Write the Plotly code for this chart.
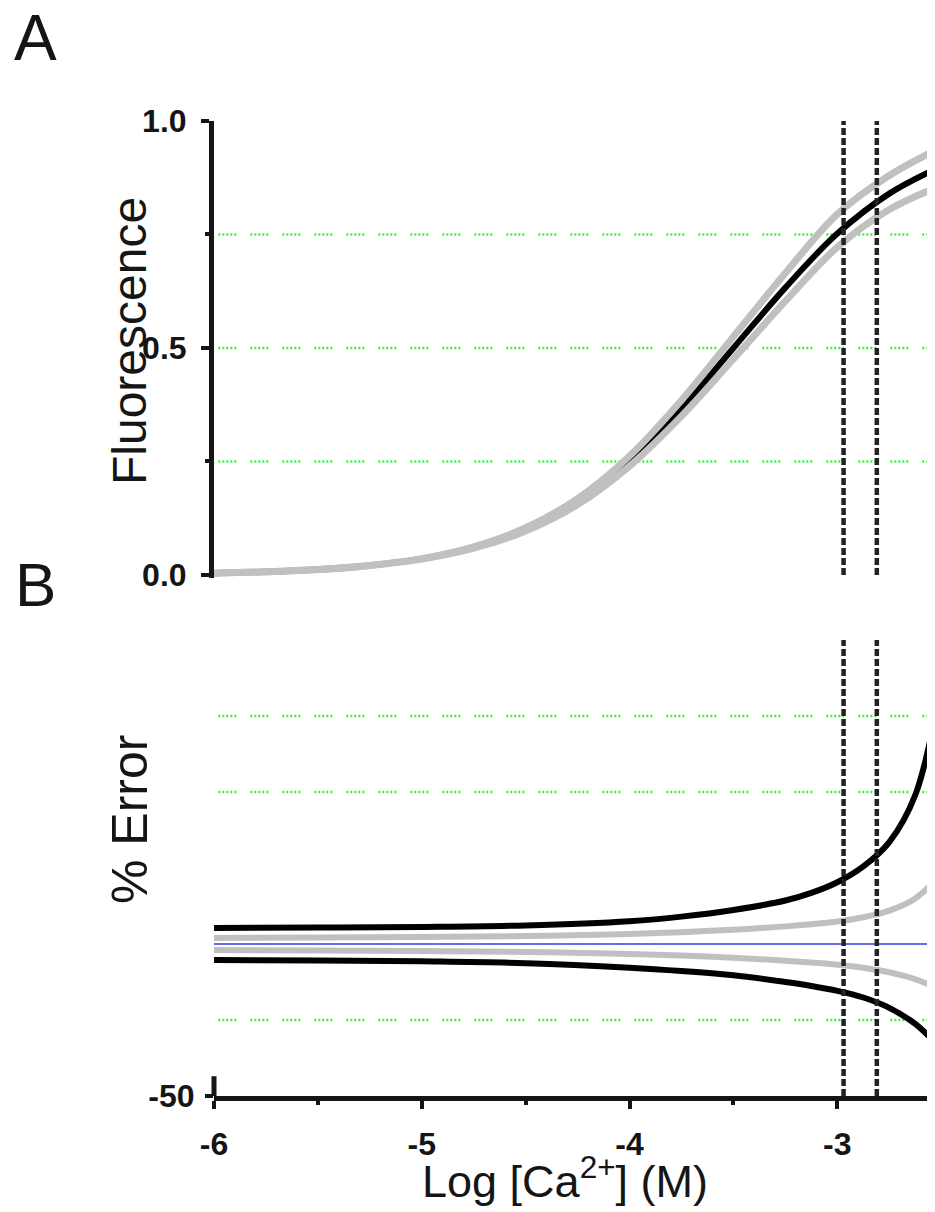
import plotly.graph_objects as go

# ---------------- data ----------------
x_log = [-6, -5.75, -5.5, -5.25, -5, -4.75, -4.5, -4.25, -4, -3.75, -3.5, -3.25, -3, -2.75, -2.5]
fluor_fit = [0.004, 0.007, 0.012, 0.021, 0.036, 0.061, 0.101, 0.162, 0.251, 0.367, 0.500, 0.633, 0.752, 0.840, 0.900]
fluor_upper = [0.004, 0.007, 0.012, 0.021, 0.036, 0.062, 0.104, 0.168, 0.262, 0.385, 0.525, 0.665, 0.795, 0.880, 0.942]
fluor_lower = [0.004, 0.007, 0.012, 0.021, 0.035, 0.059, 0.097, 0.155, 0.240, 0.350, 0.476, 0.603, 0.722, 0.805, 0.858]

err_x = [-6, -5.5, -5, -4.5, -4, -3.75, -3.5, -3.25, -3.125, -3, -2.875, -2.75, -2.625, -2.5]
err_black_up = [5.3, 5.4, 5.6, 6.1, 7.5, 9.0, 11.2, 14.3, 16.8, 20.3, 25.5, 33.5, 49.0, 85.0]
err_gray_up = [2.0, 2.1, 2.3, 2.6, 3.3, 3.9, 4.7, 5.8, 6.5, 7.4, 8.8, 11.0, 15.0, 23.0]
err_gray_lo = [-2.0, -2.1, -2.3, -2.6, -3.3, -3.8, -4.5, -5.5, -6.1, -6.8, -7.8, -9.3, -11.6, -15.0]
err_black_lo = [-5.3, -5.4, -5.7, -6.3, -7.8, -8.9, -10.3, -12.5, -13.8, -15.4, -17.6, -21.0, -26.3, -34.5]
err_zero = [0.0] * len(err_x)

ref_log_ca = [-2.97, -2.81]          # vertical dashed reference lines
grid_a = [0.25, 0.5, 0.75]           # green dotted guides, panel A
grid_b = [-25, 50, 75]               # green dotted guides, panel B

x_range = [-6, -2.53]
a_range = [-0.006, 1.0]
b_range = [-50, 100]
a_ticks = [0, 0.5, 1.0]
a_ticktext = ["0.0", "0.5", "1.0"]
a_minor = [0.25, 0.75]
x_ticks = [-6, -5, -4, -3]
x_ticktext = ["-6", "-5", "-4", "-3"]
x_minor = [-5.5, -4.5, -3.5]
b_ticks = [-50]
b_ticktext = ["-50"]

# ---------------- styling ----------------
FONT = "Liberation Sans, Arial, sans-serif"
INK = "#151515"
GRAY = "#c0c0c0"
GREEN = "#3cee3c"
BLUE = "#6a6aee"
GREEN_DASH = "2px,2px,2px,2px,2px,2px,2px,2px,2px,14px"
REF_DASH = "7px,3px"

OFF = 8                      # page offset of the figure inside the window
W, H = 935 - OFF, 1212 - OFF
ML = 214 - OFF
PW = W - ML

def fy(py):                  # window pixel row -> paper fraction
    return 1 - (py - OFF) / H

fig = go.Figure()

# Panel A
fig.add_trace(go.Scatter(x=x_log, y=fluor_fit, mode="lines", line=dict(color="black", width=6, shape="spline"),
                         xaxis="x", yaxis="y", showlegend=False, hoverinfo="skip"))
for ys in (fluor_upper, fluor_lower):
    fig.add_trace(go.Scatter(x=x_log, y=ys, mode="lines", line=dict(color=GRAY, width=7, shape="spline"),
                             xaxis="x", yaxis="y", showlegend=False, hoverinfo="skip"))

# Panel B
fig.add_trace(go.Scatter(x=err_x, y=err_zero, mode="lines", line=dict(color=BLUE, width=2),
                         xaxis="x2", yaxis="y2", showlegend=False, hoverinfo="skip"))
for ys, col in ((err_gray_up, GRAY), (err_gray_lo, GRAY), (err_black_up, "black"), (err_black_lo, "black")):
    fig.add_trace(go.Scatter(x=err_x, y=ys, mode="lines", line=dict(color=col, width=6, shape="spline"),
                             xaxis="x2", yaxis="y2", showlegend=False, hoverinfo="skip"))

# dashed reference lines
for v in ref_log_ca:
    fig.add_trace(go.Scatter(x=[v, v], y=[0, 1.0], mode="lines",
                             line=dict(color="#222222", width=4.5, dash=REF_DASH),
                             xaxis="x", yaxis="y", showlegend=False, hoverinfo="skip"))
    fig.add_trace(go.Scatter(x=[v, v], y=[b_range[0], b_range[1]], mode="lines",
                             line=dict(color="#222222", width=4.5, dash=REF_DASH),
                             xaxis="x2", yaxis="y2", showlegend=False, hoverinfo="skip"))

shapes = []
for g in grid_a:
    shapes.append(dict(type="line", xref="x domain", yref="y", x0=0.006, x1=1, y0=g, y1=g,
                       line=dict(color=GREEN, width=2.5, dash=GREEN_DASH), layer="below"))
for g in grid_b:
    shapes.append(dict(type="line", xref="x2 domain", yref="y2", x0=0.006, x1=1, y0=g, y1=g,
                       line=dict(color=GREEN, width=2.5, dash=GREEN_DASH), layer="below"))
# short stub of the panel-B y axis
shapes.append(dict(type="line", xref="x2 domain", yref="y2", x0=0, x1=0, y0=-51.5, y1=-43.5,
                   line=dict(color=INK, width=5)))

tickfont = dict(family=FONT, size=32, color=INK, weight="bold")

fig.update_layout(
    width=W, height=H, autosize=False,
    margin=dict(l=ML, r=0, t=0, b=0, autoexpand=False),
    paper_bgcolor="white", plot_bgcolor="white",
    shapes=shapes,
    xaxis=dict(domain=[0, 1], range=x_range, anchor="y", visible=False, matches="x2", automargin=False),
    yaxis=dict(domain=[fy(577.7), fy(121)], range=a_range, anchor="x", automargin=False,
               showline=True, linewidth=5, linecolor=INK,
               ticks="outside", tickvals=a_ticks, ticktext=a_ticktext,
               ticklen=8, tickwidth=4, tickcolor=INK,
               minor=dict(tickvals=a_minor, ticks="outside", ticklen=4, tickwidth=4, tickcolor=INK),
               showgrid=False, zeroline=False, tickfont=tickfont, ticklabelstandoff=8),
    xaxis2=dict(domain=[0, 1], range=x_range, anchor="y2", automargin=False,
                showline=True, linewidth=5, linecolor=INK,
                ticks="outside", tickvals=x_ticks, ticktext=x_ticktext,
                ticklen=8, tickwidth=4, tickcolor=INK,
                minor=dict(tickvals=x_minor, ticks="outside", ticklen=4, tickwidth=4, tickcolor=INK),
                showgrid=False, zeroline=False, tickfont=tickfont, ticklabelstandoff=8),
    yaxis2=dict(domain=[fy(1096), fy(640)], range=b_range, anchor="x2", automargin=False,
                showline=False, ticks="outside", tickvals=b_ticks, ticktext=b_ticktext,
                ticklen=8, tickwidth=4, tickcolor=INK,
                showgrid=False, zeroline=False, tickfont=tickfont, ticklabelstandoff=4),
)

def ann(text, px, py, size, angle=0):
    return dict(text=text, x=(px - OFF - ML) / PW, y=fy(py), xref="paper", yref="paper",
                showarrow=False, textangle=angle, xanchor="center", yanchor="middle",
                font=dict(family=FONT, size=size, color=INK))

fig.update_layout(annotations=[
    ann("A", 35, 38, 64),
    ann("B", 35, 584, 62),
    ann("Fluorescence", 130, 341, 48, -90),
    ann("% Error", 130, 820, 50, -90),
    ann("Log [Ca<sup>2+</sup>] (M)", 565, 1178, 45),
])

fig.write_html("out.html")
